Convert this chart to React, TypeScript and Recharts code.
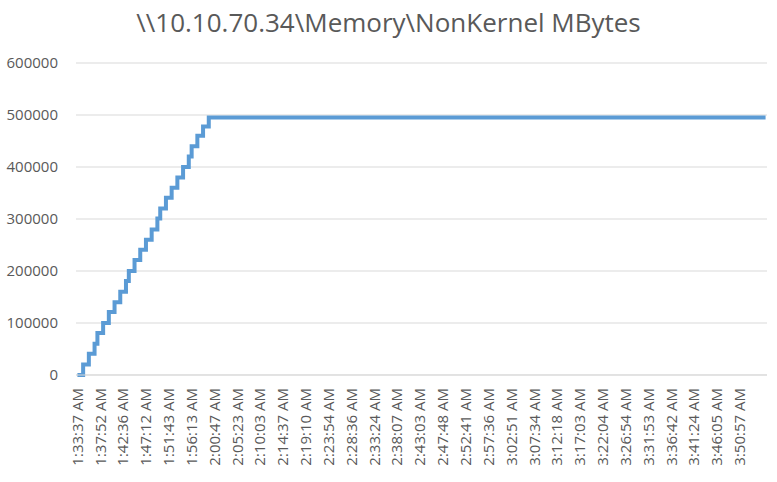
import React from "react";
import { CartesianGrid, Line, LineChart, XAxis, YAxis } from "recharts";

// a time label every 8 samples (~35 s per sample)
const timeLabels = [
  "1:33:37 AM", "1:37:52 AM", "1:42:36 AM", "1:47:12 AM", "1:51:43 AM",
  "1:56:13 AM", "2:00:47 AM", "2:05:23 AM", "2:10:03 AM", "2:14:37 AM",
  "2:19:10 AM", "2:23:54 AM", "2:28:36 AM", "2:33:24 AM", "2:38:07 AM",
  "2:43:03 AM", "2:47:48 AM", "2:52:41 AM", "2:57:36 AM", "3:02:51 AM",
  "3:07:34 AM", "3:12:18 AM", "3:17:03 AM", "3:22:04 AM", "3:26:54 AM",
  "3:31:53 AM", "3:36:42 AM", "3:41:24 AM", "3:46:05 AM", "3:50:57 AM",
];
const samplesPerLabel = 8;
const lastSample = 241;

// samples where the value changes, and the value from that sample on
const stepSamples = [
  0, 2, 4, 6, 7, 9, 11, 13, 15, 17, 18, 20, 22, 24, 26, 28, 29, 31, 33, 35,
  37, 39, 40, 42, 44, 46,
];
const stepValues = [
  0, 20000, 41000, 60000, 81000, 100000, 121000, 140000, 160000, 181000,
  200000, 221000, 241000, 260000, 280000, 301000, 320000, 341000, 360000,
  380000, 400000, 420000, 440000, 460000, 478000, 495000,
];
const plateauValue = 495000;

const yTicks = [0, 100000, 200000, 300000, 400000, 500000, 600000];

const data = [
  ...stepSamples.map((idx, i) => ({ idx, value: stepValues[i] })),
  { idx: lastSample, value: plateauValue },
];

const xTicks = timeLabels.map((_, i) => i * samplesPerLabel);

const FONT = "'Open Sans', sans-serif";
const TEXT = "#595959";

function TimeTick({ x, y, payload }: any) {
  const label = timeLabels[payload.value / samplesPerLabel] ?? "";
  const ty = y + 11;
  return (
    <text
      x={x}
      y={ty}
      dy="0.35em"
      transform={`rotate(-90, ${x}, ${ty})`}
      textAnchor="end"
      fill={TEXT}
      fontSize={15}
      fontFamily={FONT}
    >
      {label}
    </text>
  );
}

export default function App() {
  return (
    <div
      style={{
        position: "absolute",
        left: 0,
        top: 0,
        width: 777,
        height: 482,
        background: "#fff",
        fontFamily: FONT,
      }}
    >
      <div
        style={{
          position: "absolute",
          top: 4,
          left: 0,
          width: 777,
          textAlign: "center",
          fontSize: 26,
          color: TEXT,
        }}
      >
        \\10.10.70.34\Memory\NonKernel MBytes
      </div>
      <LineChart
        width={777}
        height={482}
        data={data}
        margin={{ top: 63, right: 10, left: 0, bottom: 0 }}
      >
        <CartesianGrid vertical={false} stroke="#d9d9d9" />
        <XAxis
          dataKey="idx"
          type="number"
          domain={[-0.5, lastSample + 0.5]}
          ticks={xTicks}
          interval={0}
          tick={<TimeTick />}
          tickLine={false}
          tickSize={0}
          axisLine={{ stroke: "#d9d9d9" }}
          height={107}
        />
        <YAxis
          domain={[0, 600000]}
          ticks={yTicks}
          width={76}
          tickLine={false}
          axisLine={false}
          tickMargin={12}
          tick={{ fill: TEXT, fontSize: 15, fontFamily: FONT }}
        />
        <Line
          type="stepAfter"
          dataKey="value"
          stroke="#5b9bd5"
          strokeWidth={4}
          dot={false}
          isAnimationActive={false}
        />
      </LineChart>
    </div>
  );
}
